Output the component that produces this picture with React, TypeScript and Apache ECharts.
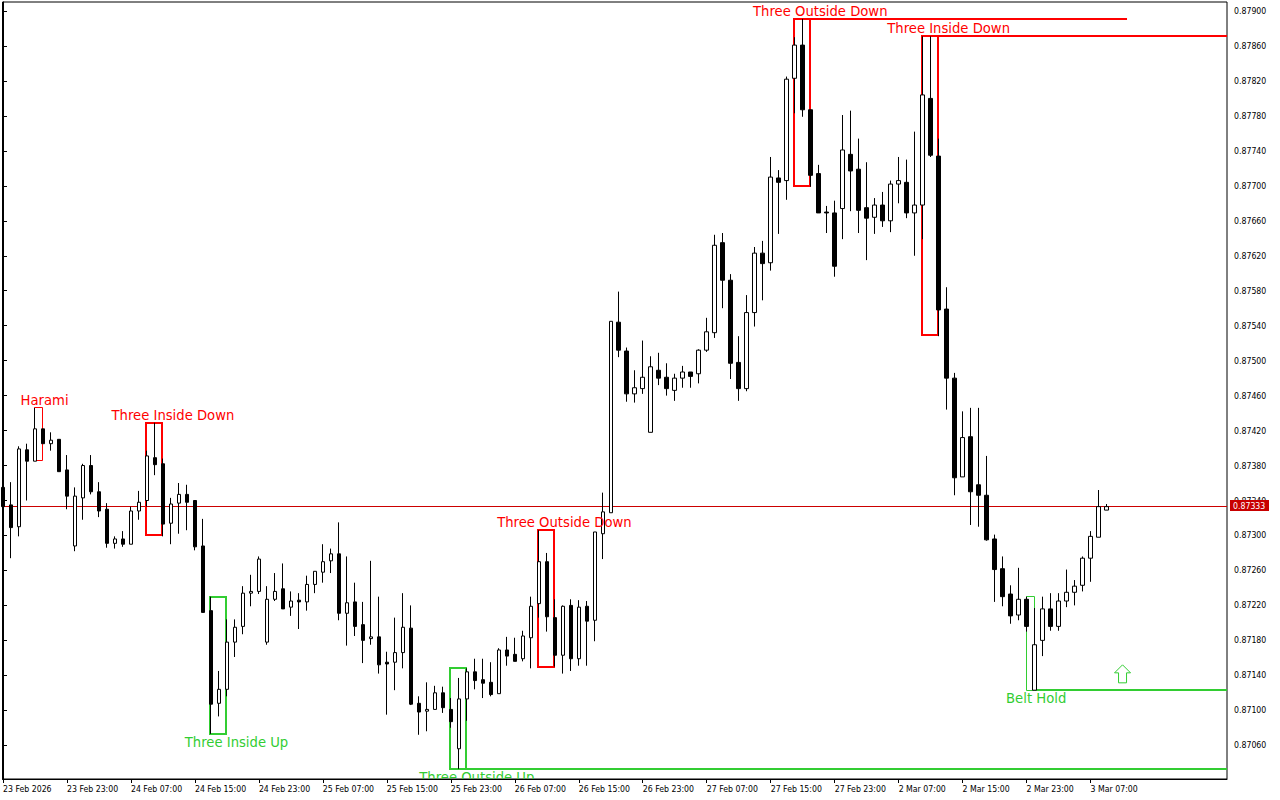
import React, { useEffect, useRef } from "react";
import * as echarts from "echarts";

// All prices are written in units of 0.00001
const PRICE_UNIT = 100000;

const opens = [
  87355,87335,87310,87398,87385,87422,87405,87410,87375,87288,
  87343,87380,87350,87330,87291,87296,87290,87328,87340,87389,
  87382,87314,87337,87347,87340,87288,87214,87108,87124,87178,
  87196,87234,87236,87178,87227,87239,87218,87226,87224,87244,
  87258,87271,87279,87211,87224,87198,87182,87184,87155,87155,
  87166,87194,87108,87099,87101,87120,87101,87056,87113,87144,
  87135,87132,87119,87169,87164,87159,87183,87222,87270,87206,
  87163,87220,87159,87219,87203,87302,87326,87544,87511,87462,
  87468,87418,87489,87481,87466,87480,87487,87485,87512,87532,
  87635,87592,87498,87468,87555,87623,87612,87709,87706,87823,
  87861,87787,87714,87670,87669,87674,87736,87719,87675,87664,
  87678,87660,87702,87704,87669,87678,87800,87734,87559,87480,
  87367,87413,87358,87346,87296,87262,87233,87209,87227,87123,
  87180,87216,87196,87225,87235,87243,87274,87298,87329,
];
const closes = [
  87333,87309,87399,87385,87422,87405,87409,87373,87345,87345,
  87380,87350,87328,87291,87296,87290,87328,87338,87391,87381,
  87313,87336,87347,87338,87287,87212,87107,87124,87178,87195,
  87234,87236,87273,87227,87236,87216,87225,87224,87244,87259,
  87270,87279,87211,87223,87196,87180,87184,87152,87153,87166,
  87195,87107,87098,87101,87120,87103,87087,87113,87144,87134,
  87131,87118,87169,87162,87156,87185,87219,87270,87207,87163,
  87219,87159,87218,87202,87304,87327,87545,87512,87462,87469,
  87481,87493,87480,87468,87480,87487,87482,87512,87533,87632,
  87592,87497,87468,87555,87623,87611,87710,87704,87822,87861,
  87787,87712,87669,87669,87608,87741,87717,87672,87663,87678,
  87660,87702,87706,87669,87678,87804,87735,87558,87480,87366,
  87412,87350,87346,87295,87261,87230,87208,87227,87196,87175,
  87216,87196,87225,87235,87242,87274,87299,87333,87333,
];
const lows = [
  87333,87274,87299,87340,87385,87405,87397,87373,87330,87282,
  87318,87347,87321,87286,87285,87287,87290,87318,87333,87369,
  87299,87290,87302,87306,87283,87212,87073,87093,87116,87161,
  87187,87219,87233,87175,87225,87216,87208,87193,87214,87234,
  87246,87257,87203,87174,87185,87154,87175,87142,87095,87123,
  87148,87106,87072,87076,87101,87097,87080,87033,87088,87124,
  87114,87116,87119,87151,87156,87156,87148,87206,87190,87150,
  87142,87145,87151,87151,87179,87273,87326,87504,87453,87452,
  87462,87418,87472,87460,87454,87469,87469,87474,87510,87526,
  87560,87479,87454,87465,87539,87569,87603,87645,87684,87783,
  87779,87699,87669,87646,87596,87639,87671,87646,87615,87645,
  87653,87647,87680,87663,87620,87639,87733,87528,87444,87346,
  87367,87312,87310,87294,87224,87219,87199,87203,87190,87123,
  87162,87191,87191,87218,87220,87236,87247,87298,87329,
];
const highs = [
  87355,87361,87402,87405,87446,87422,87418,87410,87392,87355,
  87382,87392,87361,87337,87299,87305,87333,87351,87397,87429,
  87388,87343,87360,87358,87340,87319,87230,87145,87204,87204,
  87242,87255,87276,87242,87257,87268,87236,87234,87254,87259,
  87290,87285,87315,87276,87246,87224,87271,87230,87167,87206,
  87234,87220,87116,87132,87128,87127,87114,87137,87148,87159,
  87159,87155,87171,87184,87183,87191,87230,87306,87280,87227,
  87220,87227,87226,87225,87304,87349,87545,87579,87515,87489,
  87523,87505,87509,87497,87485,87494,87487,87513,87549,87644,
  87646,87599,87528,87575,87630,87637,87733,87718,87825,87870,
  87891,87787,87724,87677,87683,87781,87786,87754,87727,87686,
  87693,87706,87733,87730,87762,87871,87871,87754,87584,87486,
  87442,87446,87446,87391,87301,87276,87243,87263,87230,87217,
  87230,87234,87234,87261,87249,87276,87305,87352,87336,
];

const timeLabels = [
  "23 Feb 2026","23 Feb 23:00","24 Feb 07:00","24 Feb 15:00","24 Feb 23:00","25 Feb 07:00",
  "25 Feb 15:00","25 Feb 23:00","26 Feb 07:00","26 Feb 15:00","26 Feb 23:00","27 Feb 07:00",
  "27 Feb 15:00","27 Feb 23:00","2 Mar 07:00","2 Mar 15:00","2 Mar 23:00","3 Mar 07:00",
];
const BARS_PER_TIME_LABEL = 8;
const priceTicks = [
  87900,87860,87820,87780,87740,87700,87660,87620,87580,87540,87500,
  87460,87420,87380,87340,87300,87260,87220,87180,87140,87100,87060,
];
const lastPrice = 87333;
const AXIS_MIN_PRICE = 87021.4;
const AXIS_MAX_PRICE = 87910.3;
const AXIS_MIN_BAR = -0.0625;
const AXIS_MAX_BAR = 153.0625;

const RED = "#ff0000";
const GREEN = "#32cd32";
const AXIS_FONT_FAMILY = '"DejaVu Sans Condensed", "DejaVu Sans", sans-serif';
const AXIS_FONT_SIZE = 8.7;

// Pattern outlines, anchored on bars and prices
const patternBoxes = [
  { from: 4, to: 5, top: 87446, bottom: 87386, color: RED, width: 1 },
  { from: 18, to: 20, top: 87429, bottom: 87300, color: RED, width: 2 },
  { from: 26, to: 28, top: 87230, bottom: 87073, color: GREEN, width: 2 },
  { from: 56, to: 58, top: 87148, bottom: 87033, color: GREEN, width: 2 },
  { from: 67, to: 69, top: 87306, bottom: 87150, color: RED, width: 2 },
  { from: 99, to: 101, top: 87891, bottom: 87700, color: RED, width: 2 },
  { from: 115, to: 117, top: 87871, bottom: 87529, color: RED, width: 2 },
  { from: 128, to: 129, top: 87230, bottom: 87123, color: GREEN, width: 1 },
];
const patternExtensions = [
  { from: 58, to: AXIS_MAX_BAR, price: 87033, color: GREEN },
  { from: 101, to: 140.56, price: 87891, color: RED },
  { from: 117, to: AXIS_MAX_BAR, price: 87871, color: RED },
  { from: 129, to: AXIS_MAX_BAR, price: 87123, color: GREEN },
];
const patternLabels = [
  { text: "Harami", bar: 5.2, price: 87454, color: RED },
  { text: "Three Inside Down", bar: 21.25, price: 87437, color: RED },
  { text: "Three Inside Up", bar: 29.2, price: 87063, color: GREEN },
  { text: "Three Outside Up", bar: 59.25, price: 87023, color: GREEN },
  { text: "Three Outside Down", bar: 70.2, price: 87315, color: RED },
  { text: "Three Outside Down", bar: 102.2, price: 87900, color: RED },
  { text: "Three Inside Down", bar: 118.25, price: 87880, color: RED },
  { text: "Belt Hold", bar: 129.2, price: 87114, color: GREEN },
];
const arrowMarks = [{ bar: 140, price: 87152, color: GREEN }];

const p = (v: number) => v / PRICE_UNIT;
// Snap a stroke to the pixel grid so thin outlines stay solid
const crispX = (v: number, width: number) => (width % 2 === 1 ? Math.floor(v) + 0.5 : Math.floor(v));
const crispY = (v: number, width: number) => (width % 2 === 1 ? Math.floor(v) + 0.5 : Math.round(v));

export default function App() {
  const ref = useRef<HTMLDivElement>(null);

  useEffect(() => {
    document.body.style.margin = "0";
    document.body.style.background = "#fff";
    const chart = echarts.init(ref.current!, null, { renderer: "svg" });
    const axisFont = { fontFamily: AXIS_FONT_FAMILY, fontSize: AXIS_FONT_SIZE, color: "#000" };
    const tickBars = timeLabels.map((_, i) => i * BARS_PER_TIME_LABEL);
    chart.setOption({
      animation: false,
      backgroundColor: "#fff",
      grid: {
        left: 2,
        right: 53,
        top: 2,
        bottom: 21,
        show: true,
        borderColor: "#000",
        borderWidth: 1,
        backgroundColor: "#fff",
      },
      xAxis: {
        type: "value",
        min: AXIS_MIN_BAR,
        max: AXIS_MAX_BAR,
        splitLine: { show: false },
        axisLine: { show: true, lineStyle: { color: "#000", width: 1 } },
        axisTick: { show: true, length: 4, lineStyle: { color: "#000" }, customValues: tickBars },
        axisLabel: {
          ...axisFont,
          margin: 5,
          align: "left",
          showMinLabel: true,
          showMaxLabel: true,
          hideOverlap: false,
          customValues: tickBars,
          formatter: (v: number) => timeLabels[Math.round(v / BARS_PER_TIME_LABEL)] ?? "",
        },
      },
      yAxis: {
        type: "value",
        position: "right",
        min: p(AXIS_MIN_PRICE),
        max: p(AXIS_MAX_PRICE),
        scale: true,
        splitLine: { show: false },
        axisLine: { show: true, lineStyle: { color: "#000", width: 1 } },
        axisTick: { show: true, length: 4, lineStyle: { color: "#000" }, customValues: priceTicks.map(p) },
        axisLabel: {
          ...axisFont,
          margin: 7,
          hideOverlap: false,
          customValues: priceTicks.map(p),
          formatter: (v: number) => v.toFixed(5),
        },
      },
      series: [
        {
          type: "custom",
          name: "last price line",
          z: 1,
          clip: true,
          silent: true,
          encode: { x: [0, 1], y: 2 },
          data: [[AXIS_MIN_BAR, AXIS_MAX_BAR, p(lastPrice)]],
          renderItem: (_: any, api: any) => {
            const a = api.coord([AXIS_MIN_BAR, p(lastPrice)]);
            const c = api.coord([AXIS_MAX_BAR, p(lastPrice)]);
            const y = crispY(a[1], 1);
            return {
              type: "line",
              shape: { x1: a[0], y1: y, x2: c[0], y2: y },
              style: { stroke: "#cc0000", lineWidth: 1 },
            };
          },
        },
        {
          type: "custom",
          name: "pattern boxes",
          z: 1,
          clip: true,
          silent: true,
          encode: { x: [0, 1], y: [2, 3] },
          data: patternBoxes.map((b) => [b.from, b.to, p(b.top), p(b.bottom)]),
          renderItem: (params: any, api: any) => {
            const b = patternBoxes[params.dataIndex];
            const a = api.coord([b.from, p(b.top)]);
            const c = api.coord([b.to, p(b.bottom)]);
            const x0 = crispX(a[0], b.width);
            const x1 = crispX(c[0], b.width);
            const y0 = crispY(a[1], b.width);
            const y1 = crispY(c[1], b.width);
            return {
              type: "rect",
              shape: { x: x0, y: y0, width: x1 - x0, height: y1 - y0 },
              style: { fill: "none", stroke: b.color, lineWidth: b.width },
            };
          },
        },
        {
          type: "custom",
          name: "pattern extensions",
          z: 1,
          clip: true,
          silent: true,
          encode: { x: [0, 1], y: 2 },
          data: patternExtensions.map((e) => [e.from, e.to, p(e.price)]),
          renderItem: (params: any, api: any) => {
            const e = patternExtensions[params.dataIndex];
            const a = api.coord([e.from, p(e.price)]);
            const c = api.coord([e.to, p(e.price)]);
            const y = crispY(a[1], 2);
            return {
              type: "line",
              shape: { x1: a[0], y1: y, x2: c[0], y2: y },
              style: { stroke: e.color, lineWidth: 2 },
            };
          },
        },
        {
          type: "custom",
          name: "pattern labels",
          z: 3,
          clip: true,
          silent: true,
          encode: { x: 0, y: 1 },
          data: patternLabels.map((l) => [l.bar, p(l.price)]),
          renderItem: (params: any, api: any) => {
            const l = patternLabels[params.dataIndex];
            const a = api.coord([l.bar, p(l.price)]);
            return {
              type: "text",
              x: a[0],
              y: a[1],
              style: {
                text: l.text,
                fill: l.color,
                font: '13.2px "DejaVu Sans"',
                align: "center",
                verticalAlign: "middle",
              },
            };
          },
        },
        {
          type: "custom",
          name: "arrows",
          z: 3,
          silent: true,
          encode: { x: 0, y: 1 },
          data: arrowMarks.map((m) => [m.bar, p(m.price)]),
          renderItem: (params: any, api: any) => {
            const m = arrowMarks[params.dataIndex];
            const a = api.coord([m.bar, p(m.price)]);
            const outline = [[0, 0], [8, 8], [4, 8], [4, 18], [-4, 18], [-4, 8], [-8, 8]];
            return {
              type: "polygon",
              shape: { points: outline.map(([dx, dy]) => [a[0] + dx, a[1] + dy]) },
              style: { fill: "#fff", stroke: m.color, lineWidth: 1 },
            };
          },
        },
        {
          type: "custom",
          name: "last price tag",
          z: 5,
          silent: true,
          encode: { x: 0, y: 1 },
          data: [[AXIS_MAX_BAR, p(lastPrice)]],
          renderItem: (_: any, api: any) => {
            const a = api.coord([AXIS_MAX_BAR, p(lastPrice)]);
            return {
              type: "group",
              children: [
                {
                  type: "rect",
                  shape: { x: a[0] + 3, y: Math.floor(a[1]) - 6, width: 39, height: 11 },
                  style: { fill: "#c80000" },
                },
                {
                  type: "text",
                  x: a[0] + 6,
                  y: a[1] - 0.5,
                  style: {
                    text: p(lastPrice).toFixed(5),
                    fill: "#fff",
                    font: `${AXIS_FONT_SIZE}px ${AXIS_FONT_FAMILY}`,
                    align: "left",
                    verticalAlign: "middle",
                  },
                },
              ],
            };
          },
        },
        {
          type: "candlestick",
          name: "EURGBP H1",
          z: 2,
          barWidth: 4,
          silent: true,
          data: opens.map((o, i) => [i, p(o), p(closes[i]), p(lows[i]), p(highs[i])]),
          itemStyle: {
            color: "#ffffff",
            color0: "#000000",
            borderColor: "#000000",
            borderColor0: "#000000",
            borderColorDoji: "#000000",
            borderWidth: 1,
          },
        },
      ],
    });
    return () => chart.dispose();
  }, []);

  return <div ref={ref} style={{ width: 1280, height: 800 }} />;
}
